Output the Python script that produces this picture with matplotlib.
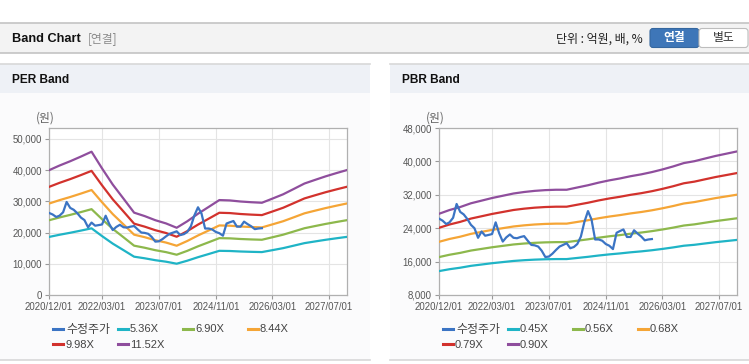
import numpy as np
import pandas as pd
import matplotlib
matplotlib.use('Agg')
import matplotlib.pyplot as plt
import matplotlib.dates as mdates
from matplotlib.patches import Rectangle, FancyBboxPatch
from matplotlib.ticker import FuncFormatter

plt.rcParams['font.family'] = ['Liberation Sans', 'Noto Sans CJK KR', 'DejaVu Sans']
KR = ['Noto Sans CJK KR', 'Liberation Sans']

# 수정주가 (monthly, 2020/12 ~ 2025/12), unit: 원
price = [26300, 25800, 25000, 25400, 26500, 29800, 27900, 27300, 26200, 24800,
         24000, 21700, 23200, 22200, 22400, 22600, 25400, 22800, 20800, 21800,
         22500, 21700, 21600, 21900, 22100, 21000, 20000, 19900, 19600, 18600,
         17100, 17200, 17900, 18800, 19600, 20000, 20400, 19200, 19500, 20200,
         22000, 25500, 28100, 26100, 21300, 21300, 21000, 20200, 19800, 19000,
         22900, 23300, 23700, 21900, 21900, 23500, 22700, 22000, 21100, 21300,
         21400]

# EPS / BPS base (quarterly, 2020/12 ~ 2027/12)
per_eps = [3470, 3600, 3720, 3850, 3985, 3520, 3070, 2680, 2290, 2195,
           2080, 1990, 1870, 2050, 2260, 2450, 2640, 2630, 2600, 2580,
           2565, 2680, 2800, 2950, 3100, 3200, 3300, 3390, 3475]
pbr_bps = [30500, 31500, 32300, 33300, 34000, 34700, 35300, 35900, 36300, 36600,
           36800, 36900, 36900, 37500, 38100, 38800, 39400, 39900, 40500, 41000,
           41600, 42300, 43100, 44000, 44500, 45200, 45900, 46500, 47100]

per_mult = [5.36, 6.90, 8.44, 9.98, 11.52]
pbr_mult = [0.45, 0.56, 0.68, 0.79, 0.90]
per_labels = ['5.36X', '6.90X', '8.44X', '9.98X', '11.52X']
pbr_labels = ['0.45X', '0.56X', '0.68X', '0.79X', '0.90X']

tick_dates = ['2020-12-01', '2022-03-01', '2023-07-01', '2024-11-01', '2026-03-01', '2027-07-01']

price_color = '#3b74c4'
band_colors = ['#1fb4c6', '#8db84c', '#f5a536', '#d2322d', '#8f4e9d']

price_dates = pd.date_range('2020-12-01', periods=len(price), freq='MS')
band_dates = pd.date_range('2020-12-01', periods=len(per_eps), freq='3MS')

W, H = 749, 364
fig = plt.figure(figsize=(W / 100, H / 100), dpi=100)
fig.patch.set_facecolor('white')

# overlay in pixel coords for the page decorations
bg = fig.add_axes([0, 0, 1, 1], zorder=-1)
bg.set_xlim(0, W)
bg.set_ylim(H, 0)
bg.axis('off')

# top header bar
bg.add_patch(Rectangle((0, 22.5), W, 30.5, facecolor='#f3f3f3', edgecolor='none'))
bg.plot([0, W], [22.5, 22.5], color='#c4c4c4', lw=1.2)
bg.plot([0, W], [53, 53], color='#c4c4c4', lw=1.2)
bg.text(12, 39, 'Band Chart', fontsize=9.2, fontweight='bold', va='center', color='#111111')
bg.text(88, 39, '[연결]', fontsize=8.5, va='center', color='#8a8a8a', family=KR)
bg.text(643, 39, '단위 : 억원, 배, %', fontsize=8.6, va='center', ha='right', color='#222222', family=KR)
bg.add_patch(FancyBboxPatch((650, 28.5), 49, 19, boxstyle='round,pad=0,rounding_size=3',
                            facecolor='#3e76b8', edgecolor='#35679f', lw=0.8))
bg.text(674.5, 38, '연결', fontsize=8.5, fontweight='bold', va='center', ha='center', color='white', family=KR)
bg.add_patch(FancyBboxPatch((699, 28.5), 49, 19, boxstyle='round,pad=0,rounding_size=3',
                            facecolor='white', edgecolor='#bdbdbd', lw=0.8))
bg.text(723.5, 38, '별도', fontsize=8.5, va='center', ha='center', color='#333333', family=KR)

# panels
for px0, px1, title in [(0, 370, 'PER Band'), (390, W, 'PBR Band')]:
    bg.add_patch(Rectangle((px0, 64), px1 - px0, 296, facecolor='#fbfbfc', edgecolor='none'))
    bg.add_patch(Rectangle((px0, 64), px1 - px0, 29, facecolor='#eef1f6', edgecolor='none'))
    bg.plot([px0, px1], [64, 64], color='#d8d8d8', lw=1.2)
    bg.plot([px0, px1], [360, 360], color='#d8d8d8', lw=1.2)
    bg.text(px0 + 12, 80, title, fontsize=8.6, fontweight='bold', va='center', color='#111111')


def draw_band(left, eps, mults, labels, ylim, yticks, leg_x):
    ax = fig.add_axes([left / W, 1 - 295 / H, 298 / W, 167 / H])
    ax.set_facecolor('white')
    ax.plot(price_dates, price, color=price_color, lw=1.6, zorder=4)
    for m, c in zip(mults, band_colors):
        ax.plot(band_dates, np.array(eps) * m, color=c, lw=1.6, zorder=3)
    ax.set_xlim(pd.Timestamp('2020-12-01'), pd.Timestamp('2027-12-01'))
    ax.set_ylim(*ylim)
    ax.set_yticks(yticks)
    ax.yaxis.set_major_formatter(FuncFormatter(lambda v, p: f'{int(v):,}'))
    ax.set_xticks([pd.Timestamp(d) for d in tick_dates])
    ax.xaxis.set_major_formatter(mdates.DateFormatter('%Y/%m/%d'))
    ax.grid(True, color='#e4e4e4', lw=0.8)
    ax.set_axisbelow(True)
    for s in ax.spines.values():
        s.set_color('#b0b0b0')
        s.set_linewidth(0.9)
    ax.tick_params(axis='both', labelsize=6.9, labelcolor='#555555', color='#999999',
                   length=3, width=0.8, pad=2)
    bg.text(left + 6, 118, '(원)', fontsize=8.5, ha='right', va='center', color='#666666', family=KR)

    # legend
    names = ['수정주가'] + labels
    cols = [price_color] + band_colors
    for i, (n, c) in enumerate(zip(names, cols)):
        r, k = divmod(i, 4)
        x = leg_x + 65 * k
        y = 329 + 15 * r
        bg.plot([x, x + 10], [y, y], color=c, lw=2.2)
        if i == 0:
            bg.text(x + 13, y, n, fontsize=8.6, va='center', color='#444444', family=KR)
        else:
            bg.text(x + 12, y + 0.5, n, fontsize=8, va='center', color='#444444')
    return ax


draw_band(49, per_eps, per_mult, per_labels, (0, 53500),
          [0, 10000, 20000, 30000, 40000, 50000], 53)
draw_band(439, pbr_bps, pbr_mult, pbr_labels, (8000, 48000),
          [8000, 16000, 24000, 32000, 40000, 48000], 443)

fig.savefig('out.png', dpi=100)
